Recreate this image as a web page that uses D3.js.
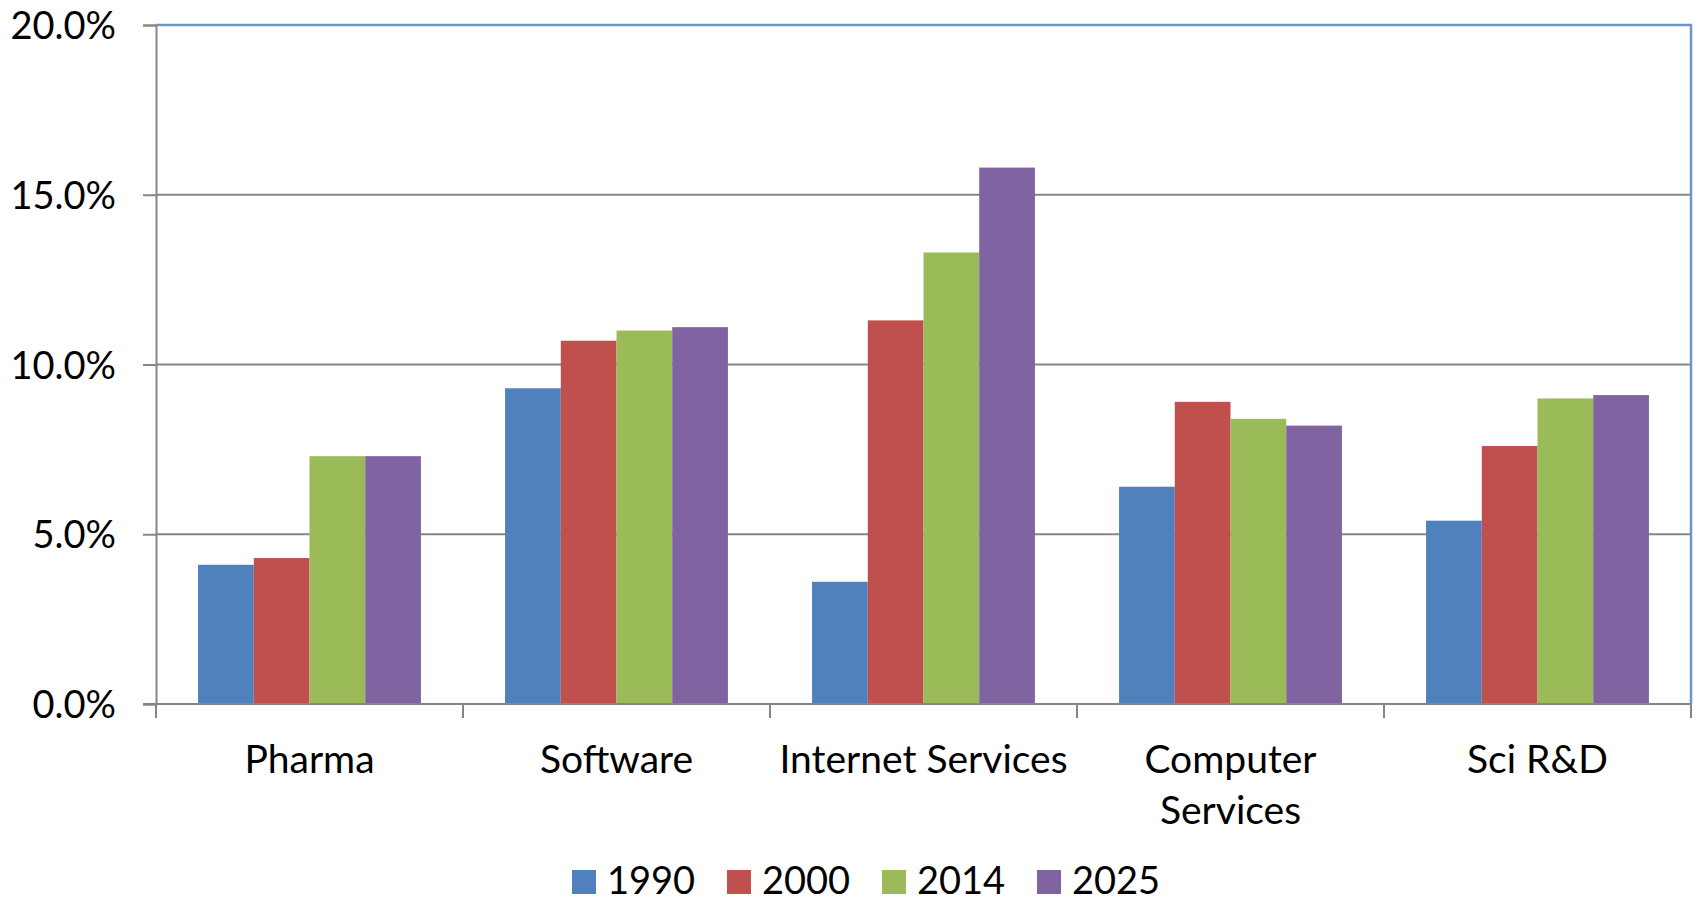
<!DOCTYPE html>
<html>
<head>
<meta charset="utf-8">
<script src="https://cdn.jsdelivr.net/npm/d3@7"></script>
<style>
  body { margin: 0; background: #fff; }
  text { font-family: Lato, "Open Sans", sans-serif; fill: #000; }
</style>
</head>
<body>
<script>
const categories = ["Pharma", "Software", "Internet Services", "Computer Services", "Sci R&D"];
const years = ["1990", "2000", "2014", "2025"];
const colors = ["#4F81BD", "#C0504D", "#9BBB59", "#8064A2"];
const v1990 = [4.1, 9.3, 3.6, 6.4, 5.4];
const v2000 = [4.3, 10.7, 11.3, 8.9, 7.6];
const v2014 = [7.3, 11.0, 13.3, 8.4, 9.0];
const v2025 = [7.3, 11.1, 15.8, 8.2, 9.1];
const yTicks = [0, 5, 10, 15, 20];

const series = [v1990, v2000, v2014, v2025];

const W = 1700, H = 904;
const margin = {top: 25, right: 9, bottom: 200, left: 156};
const width = W - margin.left - margin.right;
const height = H - margin.top - margin.bottom;

const svg = d3.select("body").append("svg")
  .attr("width", W)
  .attr("height", H);

const g = svg.append("g").attr("transform", "translate(" + margin.left + "," + margin.top + ")");

const x = d3.scaleBand().domain(categories).range([0, width]).paddingInner(0.274).paddingOuter(0.137);
const x1 = d3.scaleBand().domain(years).range([0, x.bandwidth()]);
const y = d3.scaleLinear().domain([0, 20]).range([height, 0]);

// gridlines
g.selectAll("line.grid")
  .data(yTicks.slice(1, -1))
  .enter().append("line")
  .attr("x1", 0).attr("x2", width)
  .attr("y1", d => y(d)).attr("y2", d => y(d))
  .attr("stroke", "#868686").attr("stroke-width", 2);

// plot border (top / right)
g.append("path")
  .attr("d", "M0," + y(20) + "H" + width + "V" + height)
  .attr("fill", "none").attr("stroke", "#6F95C8").attr("stroke-width", 2.5);

// bars
const groups = g.selectAll("g.cat")
  .data(categories)
  .enter().append("g")
  .attr("transform", d => "translate(" + x(d) + ",0)");

groups.selectAll("rect")
  .data((c, i) => years.map((yr, j) => ({yr: yr, v: series[j][i], color: colors[j]})))
  .enter().append("rect")
  .attr("x", d => x1(d.yr))
  .attr("width", x1.bandwidth())
  .attr("y", d => y(d.v))
  .attr("height", d => height - y(d.v))
  .attr("fill", d => d.color);

// y axis
const yAxis = d3.axisLeft(y).tickValues(yTicks).tickFormat(d => d.toFixed(1) + "%").tickSize(13).tickPadding(27);
const ya = g.append("g").call(yAxis);
ya.select(".domain").attr("stroke", "#868686").attr("stroke-width", 2);
ya.selectAll(".tick line").attr("stroke", "#868686").attr("stroke-width", 2);
ya.selectAll(".tick text").style("font-size", "38px").attr("dy", "0.36em");

// x axis
const edges = d3.range(categories.length + 1).map(i => i * width / categories.length);
g.append("line")
  .attr("x1", -13).attr("x2", width)
  .attr("y1", height).attr("y2", height)
  .attr("stroke", "#868686").attr("stroke-width", 2);
g.selectAll("line.xtick")
  .data(edges)
  .enter().append("line")
  .attr("x1", d => d).attr("x2", d => d)
  .attr("y1", height).attr("y2", height + 14)
  .attr("stroke", "#868686").attr("stroke-width", 2);

const labelLines = {"Computer Services": ["Computer", "Services"]};
g.selectAll("text.cat")
  .data(categories)
  .enter().append("text")
  .attr("text-anchor", "middle")
  .attr("transform", d => "translate(" + (x(d) + x.bandwidth() / 2) + "," + (height + 69) + ")")
  .style("font-size", "39px")
  .each(function(d) {
    const lines = labelLines[d] || [d];
    d3.select(this).selectAll("tspan").data(lines).enter().append("tspan")
      .attr("x", 0).attr("dy", (l, i) => i === 0 ? 0 : 51).text(l => l);
  });

// legend
const legend = svg.append("g").attr("transform", "translate(572,870)");
const items = legend.selectAll("g")
  .data(years)
  .enter().append("g")
  .attr("transform", (d, i) => "translate(" + (i * 155) + ",0)");
items.append("rect").attr("width", 24).attr("height", 24).attr("fill", (d, i) => colors[i]);
items.append("text").attr("x", 35).attr("y", 24).style("font-size", "38px").text(d => d);
</script>
</body>
</html>
